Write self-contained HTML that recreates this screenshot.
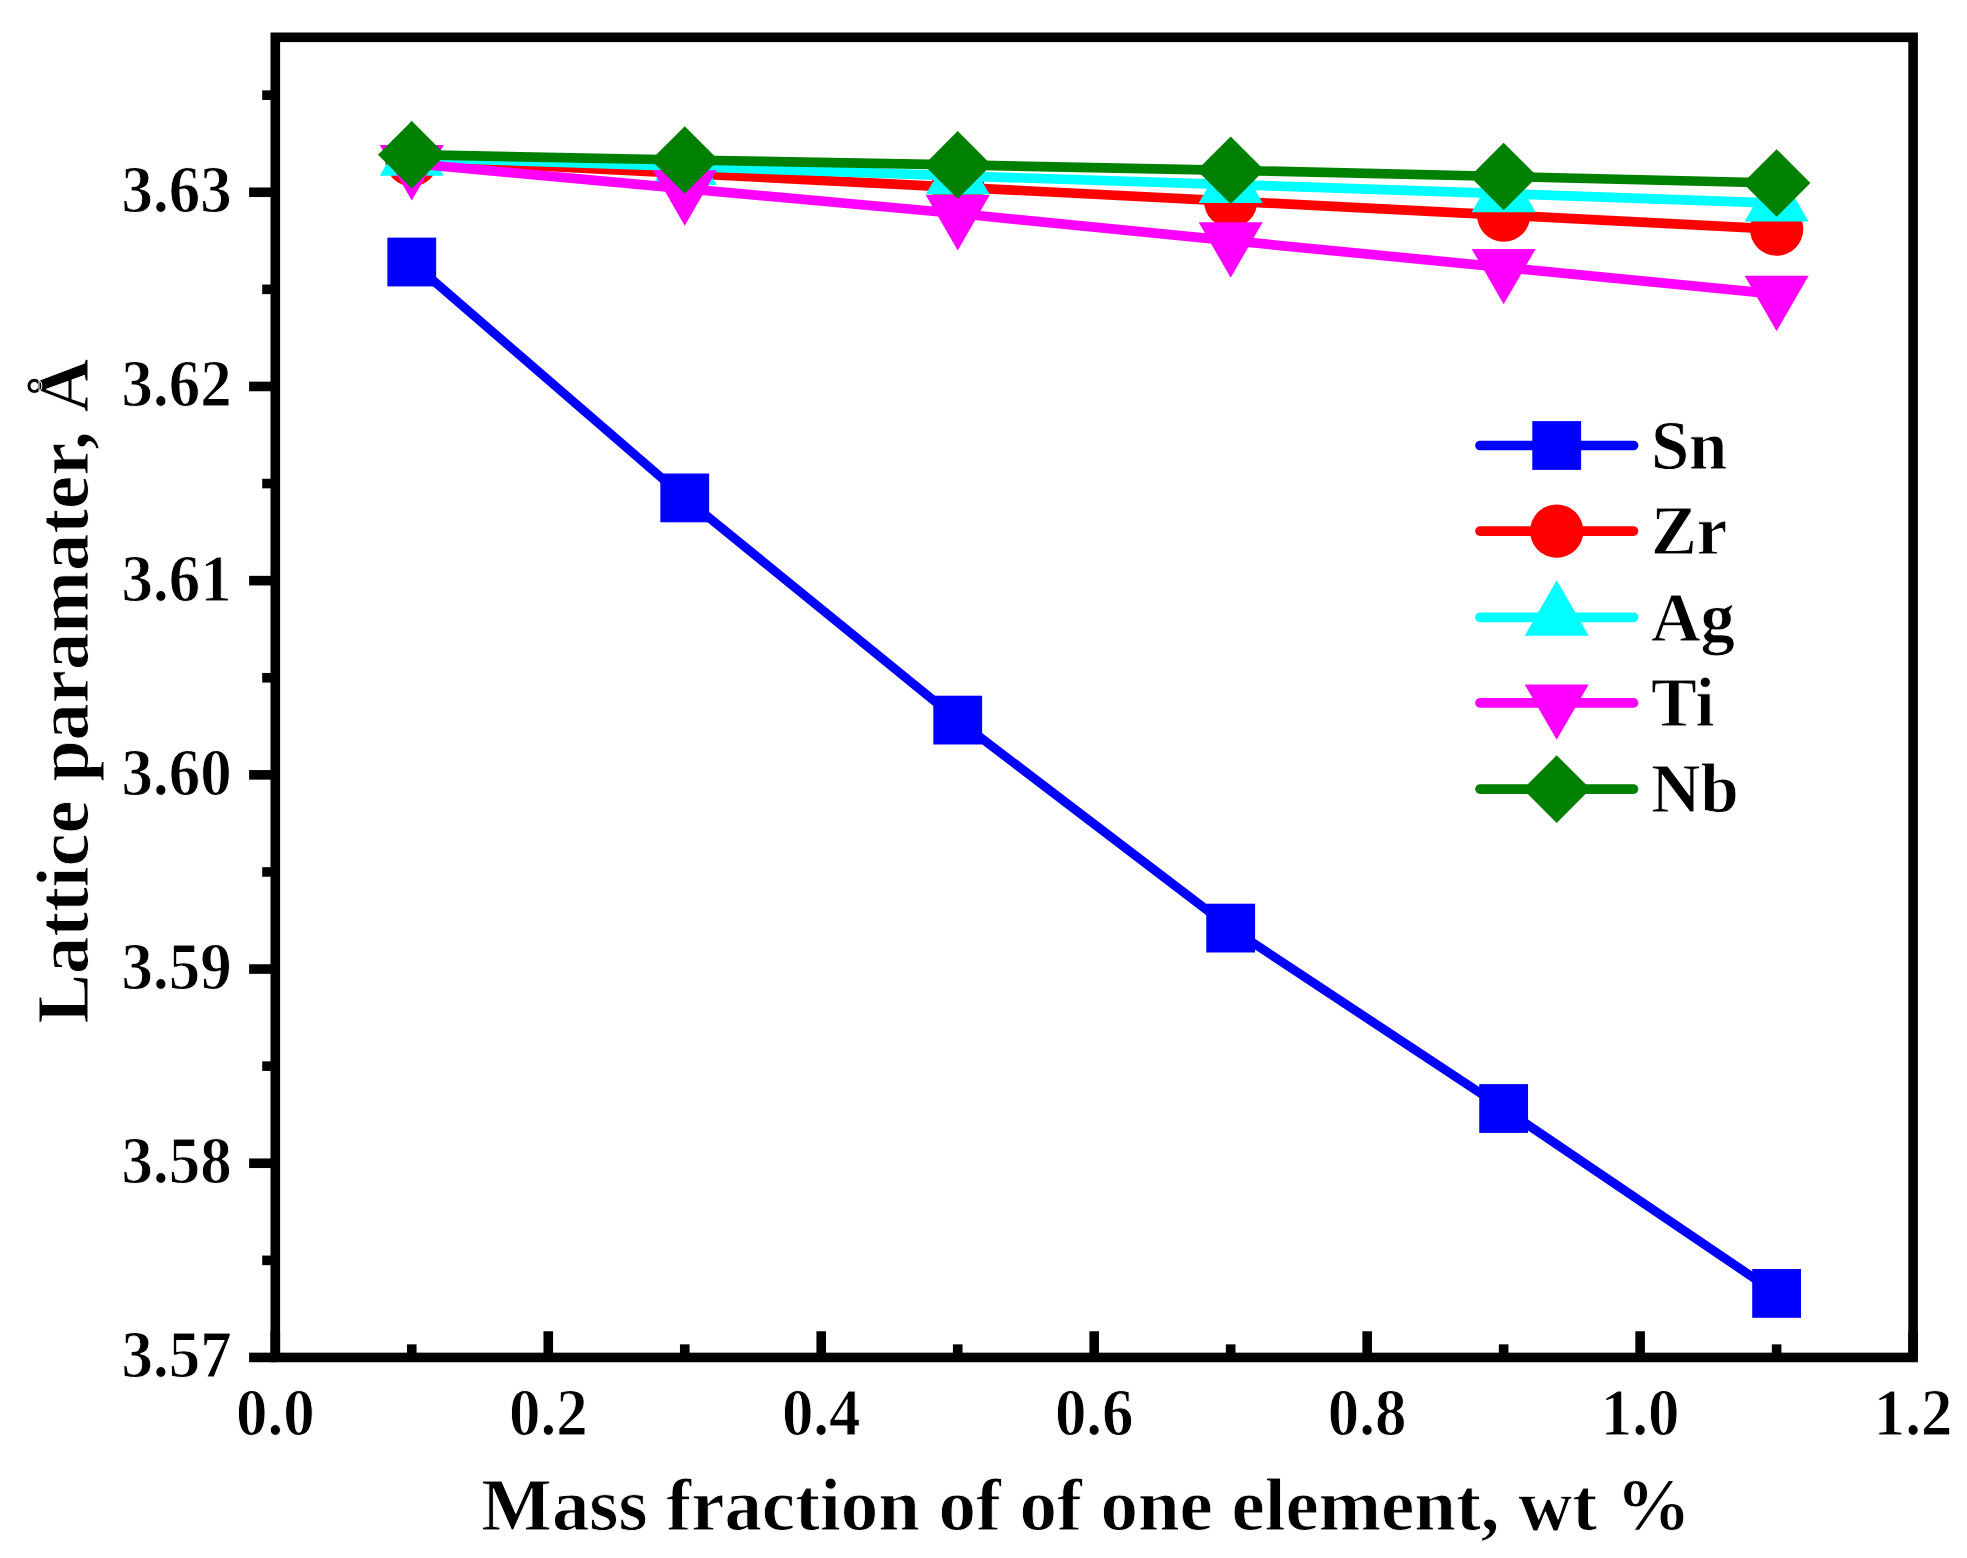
<!DOCTYPE html>
<html lang="en"><head><meta charset="utf-8"><title>Lattice parameter vs mass fraction</title>
<style>html,body{margin:0;padding:0;background:#fff}body{width:1967px;height:1558px;overflow:hidden}svg{display:block}text{font-family:"Liberation Serif",serif;font-weight:bold;fill:#000;stroke:#fff;stroke-width:0.9px;stroke-linejoin:round}</style></head><body>
<svg width="1967" height="1558" viewBox="0 0 1967 1558">
<rect width="1967" height="1558" fill="#fff"/>
<g id="series">
<polyline points="411.78,262.00 684.75,497.90 957.72,720.10 1230.68,928.10 1503.65,1108.50 1776.62,1293.40" fill="none" stroke="#0000ff" stroke-width="9.00" stroke-linejoin="round" stroke-linecap="butt"/>
<rect x="387.38" y="237.60" width="48.80" height="48.80" fill="#0000ff"/>
<rect x="660.35" y="473.50" width="48.80" height="48.80" fill="#0000ff"/>
<rect x="933.32" y="695.70" width="48.80" height="48.80" fill="#0000ff"/>
<rect x="1206.28" y="903.70" width="48.80" height="48.80" fill="#0000ff"/>
<rect x="1479.25" y="1084.10" width="48.80" height="48.80" fill="#0000ff"/>
<rect x="1752.22" y="1269.00" width="48.80" height="48.80" fill="#0000ff"/>
<polyline points="411.78,159.50 684.75,173.40 957.72,187.30 1230.68,201.20 1503.65,215.10 1776.62,229.10" fill="none" stroke="#ff0000" stroke-width="9.70" stroke-linejoin="round" stroke-linecap="butt"/>
<circle cx="411.78" cy="159.50" r="26.70" fill="#ff0000"/>
<circle cx="684.75" cy="173.40" r="26.70" fill="#ff0000"/>
<circle cx="957.72" cy="187.30" r="26.70" fill="#ff0000"/>
<circle cx="1230.68" cy="201.20" r="26.70" fill="#ff0000"/>
<circle cx="1503.65" cy="215.10" r="26.70" fill="#ff0000"/>
<circle cx="1776.62" cy="229.10" r="26.70" fill="#ff0000"/>
<polyline points="411.78,157.30 684.75,166.50 957.72,175.90 1230.68,184.60 1503.65,193.70 1776.62,203.10" fill="none" stroke="#00ffff" stroke-width="9.70" stroke-linejoin="round" stroke-linecap="butt"/>
<polygon points="411.78,120.35 443.78,175.78 379.78,175.78" fill="#00ffff"/>
<polygon points="684.75,129.55 716.75,184.98 652.75,184.98" fill="#00ffff"/>
<polygon points="957.72,138.95 989.72,194.38 925.72,194.38" fill="#00ffff"/>
<polygon points="1230.68,147.65 1262.68,203.08 1198.68,203.08" fill="#00ffff"/>
<polygon points="1503.65,156.75 1535.65,212.18 1471.65,212.18" fill="#00ffff"/>
<polygon points="1776.62,166.15 1808.62,221.58 1744.62,221.58" fill="#00ffff"/>
<polyline points="411.78,163.50 684.75,188.70 957.72,213.50 1230.68,240.70 1503.65,267.40 1776.62,294.20" fill="none" stroke="#ff00ff" stroke-width="9.70" stroke-linejoin="round" stroke-linecap="butt"/>
<polygon points="411.78,200.45 443.78,145.02 379.78,145.02" fill="#ff00ff"/>
<polygon points="684.75,225.65 716.75,170.22 652.75,170.22" fill="#ff00ff"/>
<polygon points="957.72,250.45 989.72,195.02 925.72,195.02" fill="#ff00ff"/>
<polygon points="1230.68,277.65 1262.68,222.22 1198.68,222.22" fill="#ff00ff"/>
<polygon points="1503.65,304.35 1535.65,248.92 1471.65,248.92" fill="#ff00ff"/>
<polygon points="1776.62,331.15 1808.62,275.72 1744.62,275.72" fill="#ff00ff"/>
<polyline points="411.78,154.70 684.75,160.00 957.72,164.90 1230.68,170.30 1503.65,176.50 1776.62,183.00" fill="none" stroke="#008000" stroke-width="9.70" stroke-linejoin="round" stroke-linecap="butt"/>
<polygon points="411.78,120.90 445.58,154.70 411.78,188.50 377.98,154.70" fill="#008000"/>
<polygon points="684.75,126.20 718.55,160.00 684.75,193.80 650.95,160.00" fill="#008000"/>
<polygon points="957.72,131.10 991.52,164.90 957.72,198.70 923.92,164.90" fill="#008000"/>
<polygon points="1230.68,136.50 1264.48,170.30 1230.68,204.10 1196.88,170.30" fill="#008000"/>
<polygon points="1503.65,142.70 1537.45,176.50 1503.65,210.30 1469.85,176.50" fill="#008000"/>
<polygon points="1776.62,149.20 1810.42,183.00 1776.62,216.80 1742.82,183.00" fill="#008000"/>
</g>
<g id="axes" stroke="#000" stroke-width="9.60" fill="none" stroke-linecap="butt">
<rect x="275.30" y="37.30" width="1637.80" height="1320.15"/>
<line x1="275.30" y1="1357.45" x2="275.30" y2="1331.25"/>
<line x1="411.78" y1="1357.45" x2="411.78" y2="1344.35"/>
<line x1="548.27" y1="1357.45" x2="548.27" y2="1331.25"/>
<line x1="684.75" y1="1357.45" x2="684.75" y2="1344.35"/>
<line x1="821.23" y1="1357.45" x2="821.23" y2="1331.25"/>
<line x1="957.72" y1="1357.45" x2="957.72" y2="1344.35"/>
<line x1="1094.20" y1="1357.45" x2="1094.20" y2="1331.25"/>
<line x1="1230.68" y1="1357.45" x2="1230.68" y2="1344.35"/>
<line x1="1367.17" y1="1357.45" x2="1367.17" y2="1331.25"/>
<line x1="1503.65" y1="1357.45" x2="1503.65" y2="1344.35"/>
<line x1="1640.13" y1="1357.45" x2="1640.13" y2="1331.25"/>
<line x1="1776.62" y1="1357.45" x2="1776.62" y2="1344.35"/>
<line x1="1913.10" y1="1357.45" x2="1913.10" y2="1331.25"/>
<line x1="275.30" y1="1357.45" x2="249.10" y2="1357.45"/>
<line x1="275.30" y1="1260.35" x2="262.20" y2="1260.35"/>
<line x1="275.30" y1="1163.25" x2="249.10" y2="1163.25"/>
<line x1="275.30" y1="1066.15" x2="262.20" y2="1066.15"/>
<line x1="275.30" y1="969.05" x2="249.10" y2="969.05"/>
<line x1="275.30" y1="871.95" x2="262.20" y2="871.95"/>
<line x1="275.30" y1="774.85" x2="249.10" y2="774.85"/>
<line x1="275.30" y1="677.75" x2="262.20" y2="677.75"/>
<line x1="275.30" y1="580.65" x2="249.10" y2="580.65"/>
<line x1="275.30" y1="483.55" x2="262.20" y2="483.55"/>
<line x1="275.30" y1="386.45" x2="249.10" y2="386.45"/>
<line x1="275.30" y1="289.35" x2="262.20" y2="289.35"/>
<line x1="275.30" y1="192.25" x2="249.10" y2="192.25"/>
<line x1="275.30" y1="95.15" x2="262.20" y2="95.15"/>
</g>
<g id="xticklabels" font-size="64" text-anchor="middle">
<text transform="translate(275.30,1435.20) scale(0.983,1.055)">0.0</text>
<text transform="translate(548.27,1435.20) scale(0.983,1.055)">0.2</text>
<text transform="translate(821.23,1435.20) scale(0.983,1.055)">0.4</text>
<text transform="translate(1094.20,1435.20) scale(0.983,1.055)">0.6</text>
<text transform="translate(1367.17,1435.20) scale(0.983,1.055)">0.8</text>
<text transform="translate(1640.13,1435.20) scale(0.983,1.055)">1.0</text>
<text transform="translate(1913.10,1435.20) scale(0.983,1.055)">1.2</text>
</g>
<g id="yticklabels" font-size="64" text-anchor="end">
<text transform="translate(231.60,1377.45) scale(0.983,1.055)">3.57</text>
<text transform="translate(231.60,1183.25) scale(0.983,1.055)">3.58</text>
<text transform="translate(231.60,989.05) scale(0.983,1.055)">3.59</text>
<text transform="translate(231.60,794.85) scale(0.983,1.055)">3.60</text>
<text transform="translate(231.60,600.65) scale(0.983,1.055)">3.61</text>
<text transform="translate(231.60,406.45) scale(0.983,1.055)">3.62</text>
<text transform="translate(231.60,212.25) scale(0.983,1.055)">3.63</text>
</g>
<text id="xtitle" transform="translate(481.3,1529.5) scale(1.0115,1)" font-size="74">Mass fraction of of one element, wt %</text>
<text id="ytitle" transform="translate(88.1,1023.6) rotate(-90) scale(1.006,1)" font-size="74">Lattice paramater, Å</text>
<g id="legend" font-size="70">
<line x1="1480" y1="445.50" x2="1633.5" y2="445.50" stroke="#0000ff" stroke-width="9.70" stroke-linecap="round"/>
<rect x="1532.30" y="421.10" width="48.80" height="48.80" fill="#0000ff"/>
<text transform="translate(1650.9,468.70) scale(0.982,1)">Sn</text>
<line x1="1480" y1="531.10" x2="1633.5" y2="531.10" stroke="#ff0000" stroke-width="9.70" stroke-linecap="round"/>
<circle cx="1556.70" cy="531.10" r="26.70" fill="#ff0000"/>
<text transform="translate(1650.9,554.30) scale(0.982,1)">Zr</text>
<line x1="1480" y1="617.30" x2="1633.5" y2="617.30" stroke="#00ffff" stroke-width="9.70" stroke-linecap="round"/>
<polygon points="1556.70,580.35 1588.70,635.78 1524.70,635.78" fill="#00ffff"/>
<text transform="translate(1650.9,640.50) scale(0.982,1)">Ag</text>
<line x1="1480" y1="702.90" x2="1633.5" y2="702.90" stroke="#ff00ff" stroke-width="9.70" stroke-linecap="round"/>
<polygon points="1556.70,739.85 1588.70,684.42 1524.70,684.42" fill="#ff00ff"/>
<text transform="translate(1650.9,726.10) scale(0.982,1)">Ti</text>
<line x1="1480" y1="789.10" x2="1633.5" y2="789.10" stroke="#008000" stroke-width="9.70" stroke-linecap="round"/>
<polygon points="1556.70,755.30 1590.50,789.10 1556.70,822.90 1522.90,789.10" fill="#008000"/>
<text transform="translate(1650.9,812.30) scale(0.982,1)">Nb</text>
</g>
</svg></body></html>
